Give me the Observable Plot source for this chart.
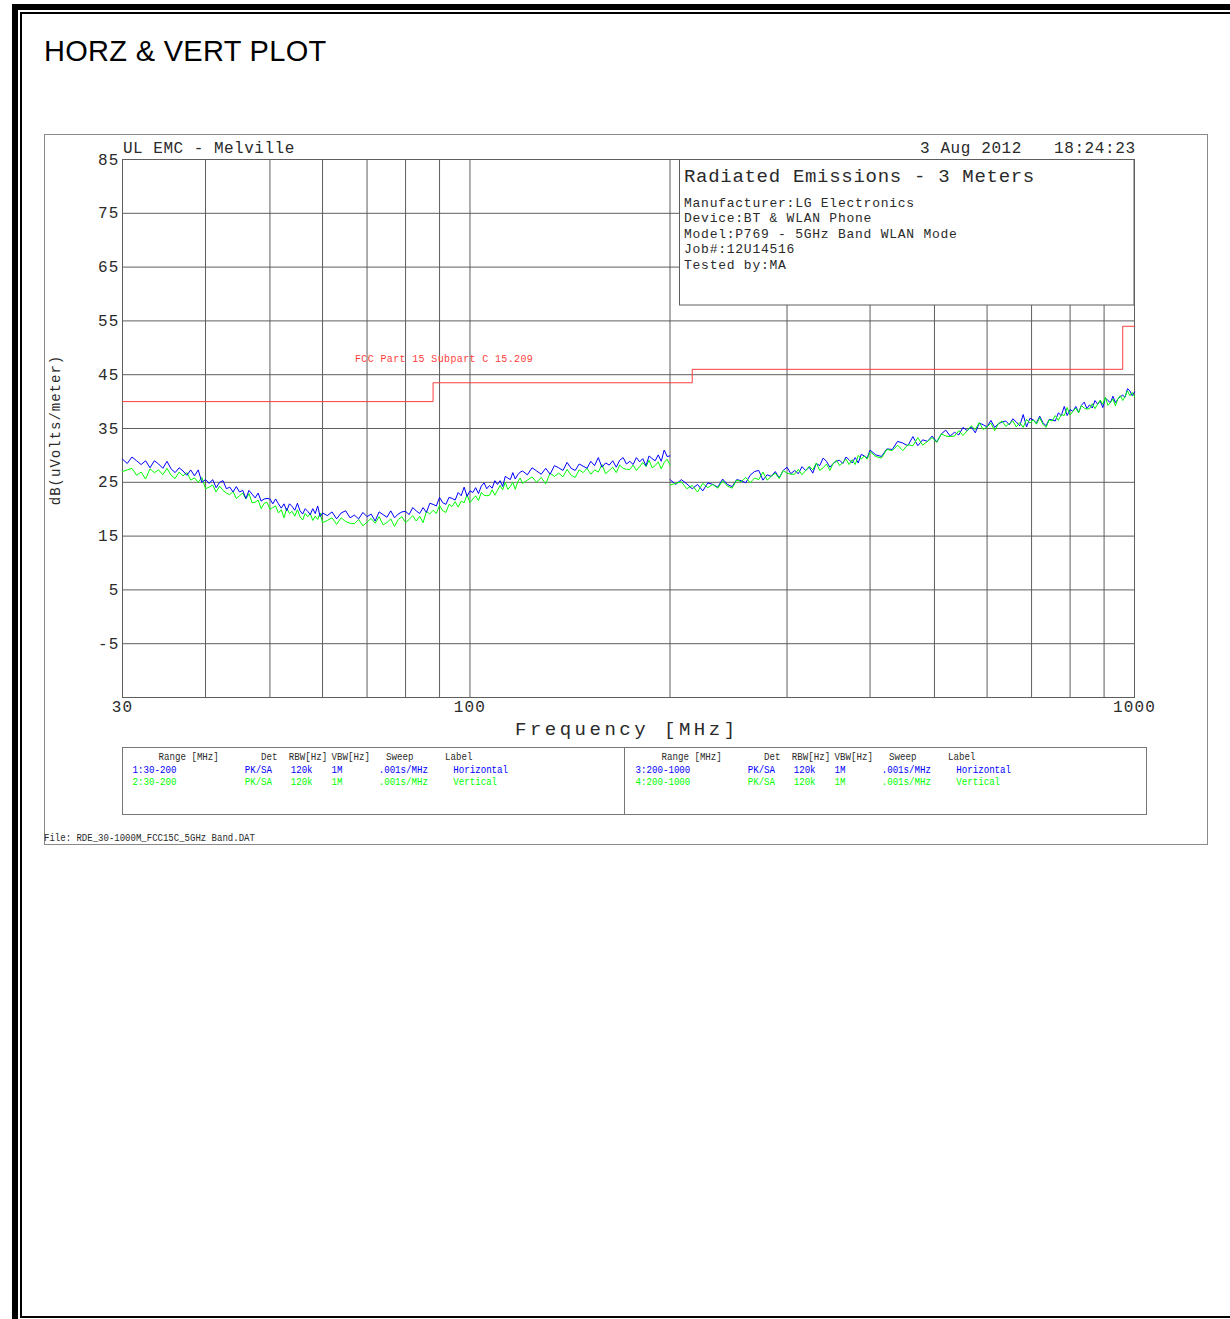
<!DOCTYPE html>
<html><head><meta charset="utf-8">
<script src="https://cdn.jsdelivr.net/npm/d3@7"></script>
<script src="https://cdn.jsdelivr.net/npm/@observablehq/plot@0.6"></script>
<style>
html,body{margin:0;padding:0;background:#fff;overflow:hidden;}
#page{position:relative;width:1230px;height:1319px;overflow:hidden;background:#fff;}
#page svg{position:absolute;left:0;top:0;max-width:none;}
#title{position:absolute;left:44px;top:37px;font:29px "Liberation Sans",Arial,sans-serif;letter-spacing:0.3px;line-height:29px;color:#000;white-space:nowrap;z-index:3;}
#page g[aria-label="y-axis tick label"] text,#page g[aria-label="x-axis tick label"] text{letter-spacing:1.2px;}
</style></head>
<body><div id="page"><div id="title">HORZ &amp; VERT PLOT</div></div>
<script>
// ---- data (range 1/2: 30-200 MHz, range 3/4: 200-1000 MHz) ----
const freqLow = [30,30.5,31,31.5,32,32.5,33,33.5,34,34.5,35,35.5,36,36.5,37,37.5,38,38.5,39,39.5,40,40.5,41,41.5,42,42.5,43,43.5,44,44.5,45,45.5,46,46.5,47,47.5,48,48.5,49,49.5,50,50.5,51,51.5,52,52.5,53,53.5,54,54.5,55,55.5,56,56.5,57,57.5,58,58.5,59,59.5,60,
  61,62,63,64,65,66,67,68,69,70,71,72,73,74,75,76,77,78,79,80,81,82,83,84,85,86,87,88,89,90,91,92,93,94,95,96,97,98,99,100,101,102,103,104,105,106,107,108,109,110,111,112,113,114,115,116,117,118,119,120,
  122,124,126,128,130,132,134,136,138,140,142,144,146,148,150,152,154,156,158,160,162,164,166,168,170,172,174,176,178,180,182,184,186,188,190,192,194,196,198,200];
const horzLow = [29.3,28.5,29.7,29.0,28.3,29.0,27.7,29.0,28.4,27.6,28.9,27.5,26.8,27.7,27.1,26.3,27.3,26.2,27.3,25.0,25.5,24.8,25.5,24.0,25.0,25.3,23.8,24.1,23.2,24.2,23.2,23.5,22.0,23.5,22.8,22.1,23.0,21.5,21.9,22.0,21.9,21.0,21.9,21.0,20.2,21.0,19.7,21.0,20.5,19.8,21.1,19.7,19.1,20.1,19.6,19.0,20.1,19.2,20.6,18.6,19.3,
  18.8,19.5,18.2,19.3,19.7,18.4,18.9,18.2,19.4,18.6,19.1,17.8,19.5,19.0,18.5,19.7,18.4,19.1,19.5,19.6,19.0,20.3,19.7,19.2,20.3,19.4,21.1,20.9,20.6,22.2,21.2,20.9,22.2,22.0,21.7,23.1,22.5,24.1,22.4,23.4,23.1,24.0,22.9,24.3,24.9,23.8,24.4,23.9,25.3,24.6,25.3,24.2,26.1,25.8,25.5,26.8,25.6,26.4,26.9,27.1,
  26.4,27.7,27.1,26.5,27.6,26.5,28.1,27.7,27.2,28.7,27.6,27.2,28.4,28.0,27.6,28.9,28.1,29.6,27.8,28.6,28.2,29.0,27.8,29.1,29.6,28.4,28.9,28.3,29.6,28.8,29.4,28.1,29.9,29.4,29.0,30.1,28.9,31.0,29.8,29.9];
const vertLow = [27.0,27.3,27.6,26.3,26.9,25.6,27.5,26.8,27.3,26.4,27.6,26.3,25.7,26.9,26.2,26.8,25.4,25.8,25.0,25.9,23.8,24.1,24.5,23.2,24.3,23.5,23.0,22.7,23.3,22.0,22.5,23.0,21.9,22.9,21.2,21.3,21.7,20.1,21.1,21.3,20.0,20.3,20.6,19.3,19.9,18.4,20.2,19.2,19.6,18.7,19.9,18.6,18.0,19.2,18.6,19.2,17.9,18.7,18.1,19.3,17.5,
  17.9,18.4,17.2,18.4,17.7,17.4,17.3,18.1,16.9,17.6,18.3,17.4,18.6,17.1,17.5,18.2,16.8,18.1,18.6,17.5,18.1,18.8,17.8,18.7,17.5,19.6,19.1,19.8,19.2,20.7,19.7,19.4,20.9,20.5,21.4,20.4,21.5,21.2,22.7,21.2,21.9,22.5,21.6,23.1,22.6,22.5,22.6,23.6,22.6,23.5,24.4,23.6,25.0,23.7,24.2,25.0,23.7,25.1,25.8,24.8,
  25.4,26.0,25.0,25.9,24.7,26.7,26.1,26.7,26.0,27.4,26.3,25.9,27.3,26.8,27.6,26.5,27.3,26.9,28.3,26.6,27.2,27.8,26.8,28.2,27.6,27.4,27.4,28.2,27.2,27.9,28.7,27.9,29.1,27.7,28.1,28.8,27.5,28.7,29.3,28.2];
const freqHigh = [200,204,208,212,216,220,224,228,232,236,240,244,248,252,256,260,264,268,272,276,280,284,288,292,296,300,304,308,312,316,320,324,328,332,336,340,344,348,352,356,360,364,368,372,376,380,384,388,392,396,400,
  408,416,424,432,440,448,456,464,472,480,488,496,504,512,520,528,536,544,552,560,568,576,584,592,600,608,616,624,632,640,648,656,664,672,680,688,696,704,712,720,
  728,736,744,752,760,768,776,784,792,800,808,816,824,832,840,848,856,864,872,880,888,896,904,912,920,928,936,944,952,960,968,976,984,992,1000];
const horzHigh = [25.5,24.6,25.5,24.7,23.8,24.6,23.4,24.9,24.6,24.1,25.6,24.6,24.2,25.5,25.3,24.9,26.3,27.0,27.2,25.4,26.4,26.1,27.0,25.8,27.2,27.8,26.6,27.2,26.6,27.9,27.2,27.8,26.7,28.5,28.1,29.5,28.9,27.8,28.5,28.9,29.1,28.5,29.7,29.2,28.6,29.6,28.6,30.2,29.9,29.5,31.0,
  30.1,29.8,31.2,31.1,32.6,32.3,31.8,33.5,31.8,32.9,32.6,33.6,32.5,34.0,34.7,33.6,34.3,33.8,35.2,34.6,35.3,34.2,36.0,35.7,35.3,36.5,35.2,35.9,36.2,36.4,35.7,36.8,36.2,35.5,37.6,35.3,36.9,36.6,36.0,37.3,
  36.1,35.5,36.7,36.6,36.4,37.9,37.4,39.1,37.4,38.5,38.2,39.1,38.0,39.3,39.9,38.7,39.4,38.8,40.2,39.5,40.1,38.9,40.7,40.2,39.8,41.0,39.8,40.5,40.9,41.2,40.8,42.4,42.0,41.1,41.8];
const vertHigh = [24.5,24.8,25.1,23.8,24.4,23.2,24.8,24.0,24.6,23.9,25.3,24.3,23.9,25.4,25.1,25.9,24.9,25.8,25.5,26.9,25.4,26.1,26.7,25.7,27.2,26.7,26.5,26.5,27.4,26.4,27.2,28.0,27.3,28.6,27.2,27.7,28.4,27.2,28.5,29.1,28.1,28.7,29.3,28.3,29.2,28.3,30.0,29.3,29.9,29.3,30.7,
  29.8,29.5,31.1,30.9,31.9,30.9,32.0,31.8,33.3,31.9,32.6,33.3,32.4,34.0,33.6,33.5,33.6,34.6,33.7,34.6,35.5,34.8,36.1,34.8,35.3,36.0,34.6,35.9,36.4,35.4,35.9,36.4,35.3,36.1,35.2,36.7,36.0,36.6,35.8,37.0,
  35.8,35.2,36.6,36.4,37.4,36.5,37.6,37.4,38.9,37.5,38.2,38.8,37.9,39.3,38.8,38.6,38.7,39.6,38.7,39.5,40.3,39.5,40.8,39.3,39.8,40.5,39.2,40.5,41.1,40.2,41.0,42.0,41.1,41.7,40.9];
const limitFreq = [30, 88, 216, 960, 1000];
const limitLevel = [40, 43.5, 46, 54, 54];
const limitName = "FCC Part 15 Subpart C 15.209";
const xTicks = [30, 100, 1000];
const xGrid = [40, 50, 60, 70, 80, 90, 100, 200, 300, 400, 500, 600, 700, 800, 900];
const yTicks = [85, 75, 65, 55, 45, 35, 25, 15, 5, -5];
const xLabel = "Frequency [MHz]";
const yLabel = "dB(uVolts/meter)";
const siteName = "UL EMC - Melville";
const testDate = "3 Aug 2012";
const testTime = "18:24:23";
const infoTitle = "Radiated Emissions - 3 Meters";
const infoLines = ["Manufacturer:LG Electronics", "Device:BT & WLAN Phone", "Model:P769 - 5GHz Band WLAN Mode", "Job#:12U14516", "Tested by:MA"];
const legendHeader = ["Range [MHz]", "Det", "RBW[Hz]", "VBW[Hz]", "Sweep", "Label"];
const legendRange = ["1:30-200", "2:30-200", "3:200-1000", "4:200-1000"];
const legendDet = ["PK/SA", "PK/SA", "PK/SA", "PK/SA"];
const legendRbw = ["120k", "120k", "120k", "120k"];
const legendVbw = ["1M", "1M", "1M", "1M"];
const legendSweep = [".001s/MHz", ".001s/MHz", ".001s/MHz", ".001s/MHz"];
const legendLabel = ["Horizontal", "Vertical", "Horizontal", "Vertical"];
const fileName = "File: RDE_30-1000M_FCC15C_5GHz Band.DAT";

// ---- build tables ----
const BLUE = "#0000ff", GREEN = "#00ff00", RED = "#ff3c3c", GRID = "#5e5e5e", INK = "#2a2a2a";
const rows = (fs, vs) => fs.map((f, i) => ({f, v: vs[i]}));
const hLow = rows(freqLow, horzLow), vLow = rows(freqLow, vertLow);
const hHigh = rows(freqHigh, horzHigh), vHigh = rows(freqHigh, vertHigh);
const limit = rows(limitFreq, limitLevel);

const MONO = "'Liberation Mono','DejaVu Sans Mono',monospace";
const chart = Plot.plot({
  width: 1230, height: 900,
  marginLeft: 122, marginRight: 96, marginTop: 159, marginBottom: 203,
  style: {background: "transparent", fontFamily: MONO, color: INK},
  x: {type: "log", domain: [30, 1000]},
  y: {domain: [-15, 85]},
  marks: [
    Plot.gridX(xGrid, {stroke: GRID, strokeOpacity: 1}),
    Plot.gridY(yTicks, {stroke: GRID, strokeOpacity: 1}),
    Plot.frame({stroke: GRID}),
    Plot.axisX(xTicks, {tickSize: 0, tickPadding: 3, fontSize: 16, fontFamily: MONO, tickFormat: d => String(d), label: null}),
    Plot.axisY(yTicks, {tickSize: 0, tickPadding: 3, fontSize: 16, fontFamily: MONO, tickFormat: d => String(d), label: null}),
    Plot.line(limit, {x: "f", y: "v", curve: "step-after", stroke: RED, strokeWidth: 1}),
    Plot.line(vLow, {x: "f", y: "v", stroke: GREEN, strokeWidth: 1}),
    Plot.line(hLow, {x: "f", y: "v", stroke: BLUE, strokeWidth: 1}),
    Plot.line(hHigh, {x: "f", y: "v", stroke: BLUE, strokeWidth: 1}),
    Plot.line(vHigh, {x: "f", y: "v", stroke: GREEN, strokeWidth: 1})
  ]
});
const page = document.getElementById("page");
page.appendChild(chart);

// ---- overlay with the plotter annotations ----
const ov = d3.create("svg").attr("width", 1230).attr("height", 1319).style("z-index", 2);
const blk = [[12,4,1218,6],[12,4,6,1315],[20,12,1210,2],[20,12,2,1306],[20,1316,1210,2]];
ov.selectAll("rect.b").data(blk).join("rect").attr("x", d => d[0]).attr("y", d => d[1]).attr("width", d => d[2]).attr("height", d => d[3]).attr("fill", "#000");
ov.append("rect").attr("x", 44.5).attr("y", 134.5).attr("width", 1163).attr("height", 710).attr("fill", "none").attr("stroke", "#8a8a8a");
ov.append("rect").attr("x", 679.5).attr("y", 159.5).attr("width", 454.5).attr("height", 145.5).attr("fill", "#fff").attr("stroke", GRID);
function txt(s, x, y, size, ls, fill = INK, sx = 1, anchor = "start") {
  return ov.append("text").attr("transform", `translate(${x},${y}) scale(${sx},1)`)
    .attr("font-family", MONO).attr("font-size", size).attr("letter-spacing", ls)
    .attr("fill", fill).attr("text-anchor", anchor).text(s);
}
txt(siteName, 123, 153, 16, 0.5);
txt(testDate, 920, 153, 16, 0.6);
txt(testTime, 1054, 153, 16, 0.6);
txt(infoTitle, 684, 182, 19, 0.7);
infoLines.forEach((s, i) => txt(s, 684, 207 + i * 15.4, 13, 0.75));
txt(limitName, 355, 362, 10, 0.36, RED);
txt(xLabel, 515, 735, 19, 3.5);
ov.append("text").attr("transform", "translate(60,430) rotate(-90)").attr("font-family", MONO)
  .attr("font-size", 14).attr("letter-spacing", 1).attr("fill", INK).attr("text-anchor", "middle").text(yLabel);
ov.append("rect").attr("x", 122.5).attr("y", 747.5).attr("width", 1024).attr("height", 67).attr("fill", "none").attr("stroke", "#777");
ov.append("line").attr("x1", 624.5).attr("x2", 624.5).attr("y1", 747.5).attr("y2", 814.5).attr("stroke", "#777");
const headX = [158.6, 261, 288.8, 331.6, 386, 445];
const rowX = [132.6, 244.7, 290.7, 331.6, 378.7, 453.3];
const rowColor = [BLUE, GREEN, BLUE, GREEN];
[0, 503].forEach(off => legendHeader.forEach((h, j) => txt(h, headX[j] + off, 760, 11, 0, INK, 0.83)));
legendRange.forEach((r, i) => {
  const off = i < 2 ? 0 : 503, y = 772.7 + (i % 2) * 12.4;
  const cells = [r, legendDet[i], legendRbw[i], legendVbw[i], legendSweep[i], legendLabel[i]];
  cells.forEach((c, j) => txt(c, rowX[j] + off, y, 11, 0, rowColor[i], 0.83));
});
txt(fileName, 44, 841, 11, 0, INK, 0.82);
page.appendChild(ov.node());
if (freqLow.length !== horzLow.length || freqLow.length !== vertLow.length || freqHigh.length !== horzHigh.length || freqHigh.length !== vertHigh.length)
  throw new Error("length mismatch " + [freqLow.length, horzLow.length, vertLow.length, freqHigh.length, horzHigh.length, vertHigh.length]);
</script>
</body></html>
